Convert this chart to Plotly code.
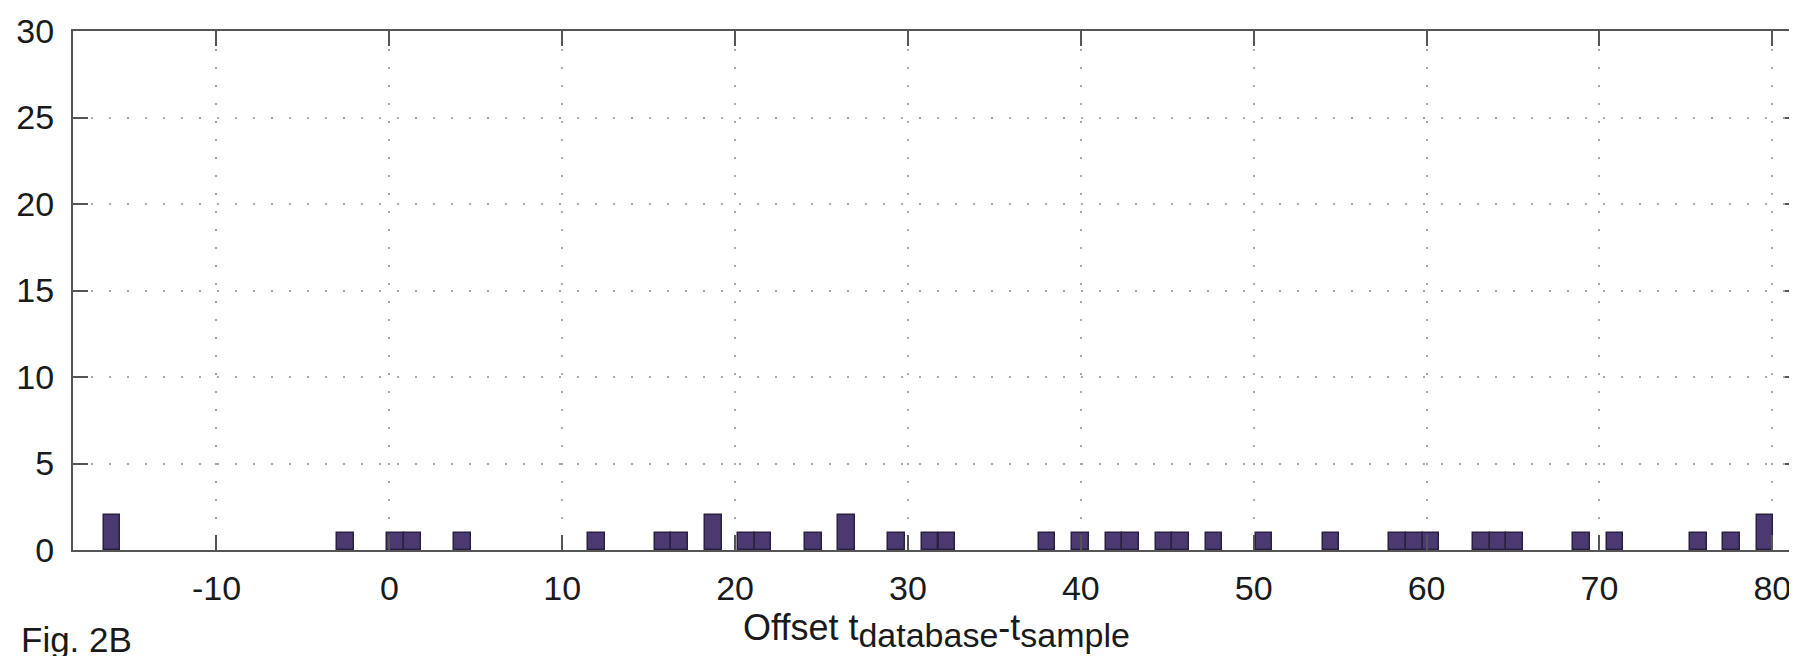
import plotly.graph_objects as go

# Histogram bin centres (offset) and counts
offsets = [-16.05, -2.52, 0.36, 1.35, 4.25, 11.97, 15.83, 16.79, 18.73, 20.66,
           21.62, 24.52, 26.45, 29.35, 31.28, 32.25, 38.05, 39.98, 41.91, 42.88,
           44.81, 45.77, 47.71, 50.60, 54.47, 58.33, 59.30, 60.26, 63.16, 64.13,
           65.09, 68.96, 70.89, 75.72, 77.65, 79.58]
counts = [2, 1, 1, 1, 1, 1, 1, 1, 2, 1,
          1, 1, 2, 1, 1, 1, 1, 1, 1, 1,
          1, 1, 1, 1, 1, 1, 1, 1, 1, 1,
          1, 1, 1, 1, 1, 2]
bin_width = 0.966

x_ticks = [-10, 0, 10, 20, 30, 40, 50, 60, 70, 80]
y_ticks = [0, 5, 10, 15, 20, 25, 30]

FONT = "Liberation Sans, Arial, Helvetica, sans-serif"
AXC = "#555555"
TXT = "#1a1a1a"

fig = go.Figure()
fig.add_trace(go.Bar(
    x=offsets, y=counts, width=bin_width,
    marker=dict(color="#4b3a72", line=dict(color="#2a2040", width=1.5)),
    showlegend=False,
))

axis_common = dict(
    showline=True, linecolor=AXC, linewidth=2, mirror="allticks",
    ticks="inside", ticklen=15, tickwidth=2, tickcolor=AXC,
    showgrid=True, gridcolor="#a8a8a8", gridwidth=2, griddash="2px,16px",
    zeroline=False,
    tickfont=dict(family=FONT, size=34, color=TXT),
)

sub = '<sub><span style="font-size:34px">{}</span></sub>'
xtitle = "Offset t" + sub.format("database") + "-t" + sub.format("sample")

fig.update_layout(
    width=1797, height=656,
    margin=dict(l=65, r=3, t=23, b=114),
    paper_bgcolor="white", plot_bgcolor="white",
    font=dict(family=FONT, color=TXT),
    bargap=0,
    xaxis=dict(range=[-18.3, 81.6], tickvals=x_ticks,
               ticktext=[str(v) for v in x_ticks],
               ticklabelstandoff=7,
               title=dict(text=xtitle,
                          font=dict(family=FONT, size=36, color=TXT),
                          standoff=0),
               **axis_common),
    yaxis=dict(range=[0, 30], tickvals=y_ticks,
               ticktext=[str(v) for v in y_ticks],
               ticklabelstandoff=10,
               **axis_common),
)

fig.add_annotation(text="Fig. 2B", xref="paper", yref="paper",
                   x=(12 - 65) / 1729, y=-(652 - 542) / 519,
                   xanchor="left", yanchor="bottom",
                   showarrow=False, borderpad=0,
                   font=dict(family=FONT, size=35, color=TXT))

fig.write_html("out.html")
